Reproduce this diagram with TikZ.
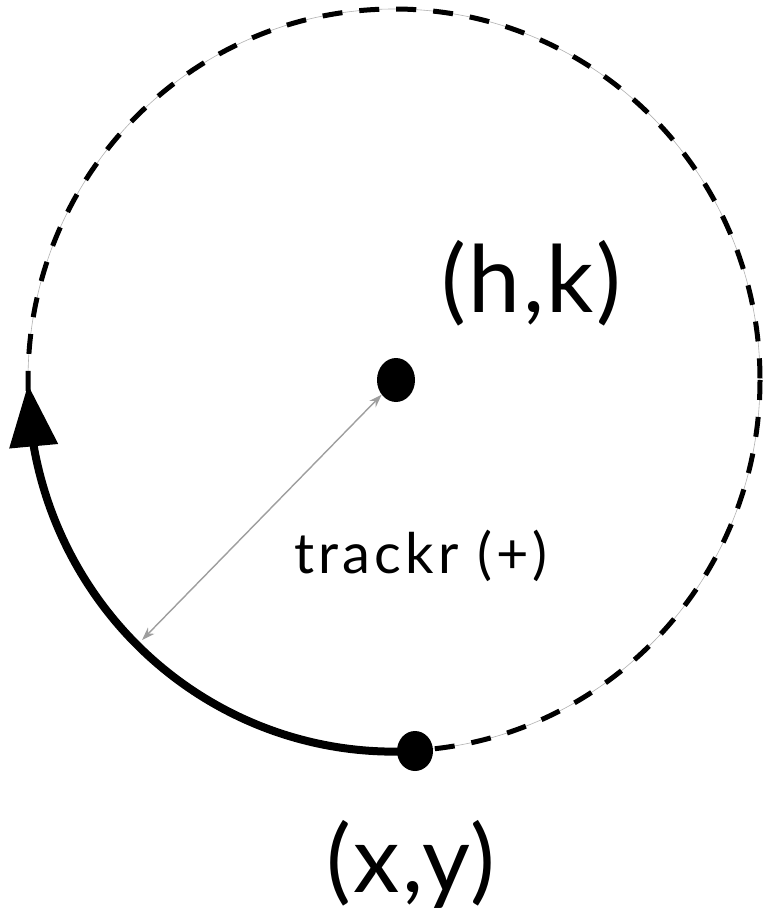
\documentclass[tikz,border=0pt]{standalone}
\usepackage{fontspec}
\setmainfont{Lato}
\usetikzlibrary{arrows.meta,shapes.geometric,calc,bending}
\tikzset{
  dotnode/.style={ellipse,fill=black,inner sep=0pt},
  guide/.style={line width=0.6pt,black!30},
  dashcircle/.style={line width=5pt,dash pattern=on 20pt off 17pt},
  motion/.style={line width=8pt,-{Triangle[length=62pt,width=47pt,flex]}},
  radius arrow/.style={line width=1.4pt,color=black!38,{Stealth[length=13pt,width=9pt]}-{Stealth[length=13pt,width=9pt]}},
  biglabel/.style={font=\fontsize{93}{100}\selectfont\addfontfeatures{LetterSpace=2.7},inner sep=0pt,anchor=base},
  midlabel/.style={font=\fontsize{56}{60}\selectfont\addfontfeatures{LetterSpace=7.5},inner sep=0pt,anchor=base}
}
\begin{document}
\begin{tikzpicture}[x=1pt,y=-1pt]
\useasboundingbox[fill=white] (0,0) rectangle (763,920);
\coordinate (c) at (394,380);
% faint guide and dashed circle
\draw[guide] (c) ellipse [x radius=366, y radius=371];
\draw[dashcircle] (c) ellipse [x radius=366, y radius=371];
% dots
\node[dotnode,minimum width=38pt,minimum height=44pt] (hk) at (396,380) {};
\node[dotnode,minimum width=36pt,minimum height=40pt] (xy) at (415,751) {};
% thick motion arc
\draw[motion] (xy.center) arc[start angle=86.7,end angle=179.4,x radius=366,y radius=371];
% radius arrow
\coordinate (rA) at ($(c)+(134.1:362)$);
\draw[radius arrow] (rA) -- (hk);
% labels
\node[biglabel] (lhk) at (531.5,312) {(h,k)};
\node[biglabel] (lxy) at (411,892) {(x,y)};
\node[midlabel] (lr) at (421,573) {trackr (+)};
\end{tikzpicture}
\end{document}
